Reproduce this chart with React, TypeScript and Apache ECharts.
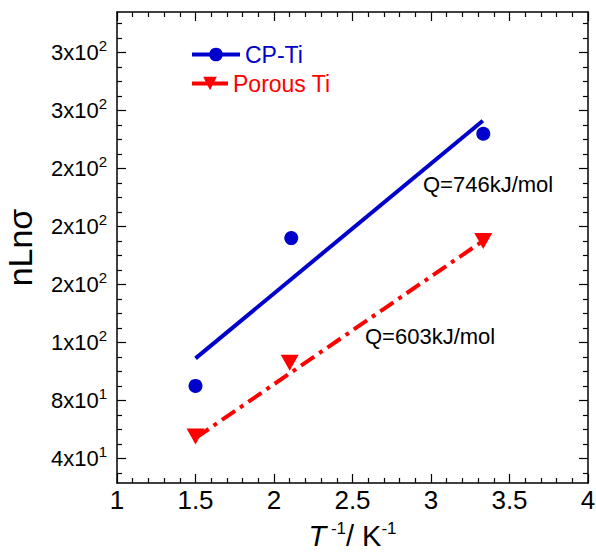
import React, { useEffect, useRef } from "react";
import * as echarts from "echarts";

const cpTiX = [1.5, 2.11, 3.333];
const cpTiY = [90, 192, 264];
const cpFitX = [1.5, 3.33];
const cpFitY = [109, 273];

const porousX = [1.5, 2.1, 3.333];
const porousY = [55, 106, 190];
const porousFitX = [1.5, 3.33];
const porousFitY = [54, 190];

const yMajor = [40, 80, 120, 160, 200, 240, 280, 320];
const yMajorMantissa = ["4", "8", "1", "2", "2", "2", "3", "3"];
const yMajorExponent = ["1", "1", "2", "2", "2", "2", "2", "2"];
const yMinor = [30, 50, 60, 70, 90, 100, 110, 130, 140, 150, 170, 180, 190, 210, 220, 230, 250, 260, 270, 290, 300, 310, 330, 340];

const annotations = [
  { text: "Q=746kJ/mol", x: 423, y: 184 },
  { text: "Q=603kJ/mol", x: 365, y: 336 },
];

const FONT = "Liberation Sans, Arial, sans-serif";
const BLUE = "#0000cc";
const RED = "#ff0000";

export default function App() {
  const ref = useRef<HTMLDivElement>(null);
  useEffect(() => {
    if (!ref.current) return;
    const chart = echarts.init(ref.current, null, { renderer: "svg" });
    const yMin = 23;
    const yMax = 348;
    const axisLine = { show: true, lineStyle: { color: "#000", width: 1.5 } };
    const yFormatter = (v: number) => {
      const i = yMajor.indexOf(v);
      if (i < 0) return "";
      return `{m|${yMajorMantissa[i]}x10}{e|${yMajorExponent[i]}}`;
    };
    const xBase = {
      type: "value",
      min: 1,
      max: 4,
      interval: 0.5,
      axisLine,
      splitLine: { show: false },
      minorSplitLine: { show: false },
      axisTick: { show: true, inside: true, length: 9, lineStyle: { color: "#000", width: 1.2 } },
      minorTick: { show: true, splitNumber: 5, length: 5, lineStyle: { color: "#000", width: 1.2 } },
    };
    const yBase = (position: string, major: boolean, labels: boolean) => ({
      type: "value",
      min: yMin,
      max: yMax,
      position,
      axisLine: major ? axisLine : { show: false },
      splitLine: { show: false },
      axisTick: {
        show: true,
        inside: true,
        length: major ? 9 : 5,
        customValues: major ? yMajor : yMinor,
        lineStyle: { color: "#000", width: 1.2 },
      },
      axisLabel: labels
        ? {
            show: true,
            customValues: yMajor,
            formatter: yFormatter,
            margin: 10,
            rich: {
              m: { fontFamily: FONT, fontSize: 22, color: "#000" },
              e: { fontFamily: FONT, fontSize: 15, color: "#000", padding: [0, 0, 14, 0] },
            },
          }
        : { show: false },
    });
    const legendBase = {
      orient: "vertical",
      left: 190,
      padding: 0,
      itemHeight: 17,
      textStyle: { fontFamily: FONT, fontSize: 23 },
    };
    chart.setOption({
      animation: false,
      backgroundColor: "#fff",
      grid: { left: 117, right: 8, top: 12, bottom: 75, containLabel: false, outerBoundsMode: "none" },
      legend: [
        {
          ...legendBase,
          top: 43,
          itemWidth: 48,
          data: [
            {
              name: "CP-Ti",
              textStyle: { color: BLUE },
              lineStyle: { color: BLUE, width: 4, opacity: 1, type: "solid" },
            },
          ],
        },
        {
          ...legendBase,
          top: 72,
          itemWidth: 36,
          data: [
            {
              name: "Porous Ti",
              textStyle: { color: RED },
              lineStyle: { color: RED, width: 4, opacity: 1, type: "solid" },
            },
          ],
        },
      ],
      xAxis: [
        {
          ...xBase,
          position: "bottom",
          name: "{t|T}{s| -1}{k|/ K}{s|-1}",
          nameLocation: "middle",
          nameGap: 37,
          nameTextStyle: {
            rich: {
              t: { fontFamily: FONT, fontSize: 29, fontStyle: "italic", color: "#000" },
              k: { fontFamily: FONT, fontSize: 29, color: "#000" },
              s: { fontFamily: FONT, fontSize: 17, color: "#000", padding: [0, 0, 14, 0] },
            },
          },
          axisLabel: { show: true, margin: 4, fontFamily: FONT, fontSize: 26, color: "#000" },
        },
        { ...xBase, position: "top", axisLabel: { show: false } },
      ],
      yAxis: [
        {
          ...yBase("left", true, true),
          name: "nLnσ",
          nameLocation: "middle",
          nameGap: 80,
          nameRotate: 90,
          nameTextStyle: { fontFamily: FONT, fontSize: 34, color: "#000" },
        },
        yBase("left", false, false),
        yBase("right", true, false),
        yBase("right", false, false),
      ],
      series: [
        {
          name: "CP-Ti",
          type: "line",
          data: cpTiX.map((x, i) => [x, cpTiY[i]]),
          symbol: "circle",
          symbolSize: 14,
          itemStyle: { color: BLUE },
          lineStyle: { opacity: 0, color: BLUE },
          z: 3,
        },
        {
          name: "CP-Ti fit",
          type: "line",
          data: cpFitX.map((x, i) => [x, cpFitY[i]]),
          showSymbol: false,
          symbol: "none",
          lineStyle: { color: BLUE, width: 4 },
          z: 2,
        },
        {
          name: "Porous Ti",
          type: "line",
          data: porousX.map((x, i) => [x, porousY[i]]),
          symbol: "triangle",
          symbolRotate: 180,
          symbolSize: [18, 16],
          itemStyle: { color: RED },
          lineStyle: { opacity: 0, color: RED },
          z: 3,
        },
        {
          name: "Porous Ti fit",
          type: "line",
          data: porousFitX.map((x, i) => [x, porousFitY[i]]),
          showSymbol: false,
          symbol: "none",
          lineStyle: { color: RED, width: 4, type: [16, 6, 4, 6] },
          z: 2,
        },
      ],
      graphic: annotations.map((a) => ({
        type: "text",
        x: a.x,
        y: a.y,
        style: { text: a.text, fontFamily: FONT, fontSize: 22, fill: "#000", verticalAlign: "middle" },
      })),
    });
    return () => chart.dispose();
  }, []);
  return (
    <div
      ref={ref}
      style={{ position: "fixed", left: 0, top: 0, width: 596, height: 558, background: "#fff" }}
    />
  );
}
